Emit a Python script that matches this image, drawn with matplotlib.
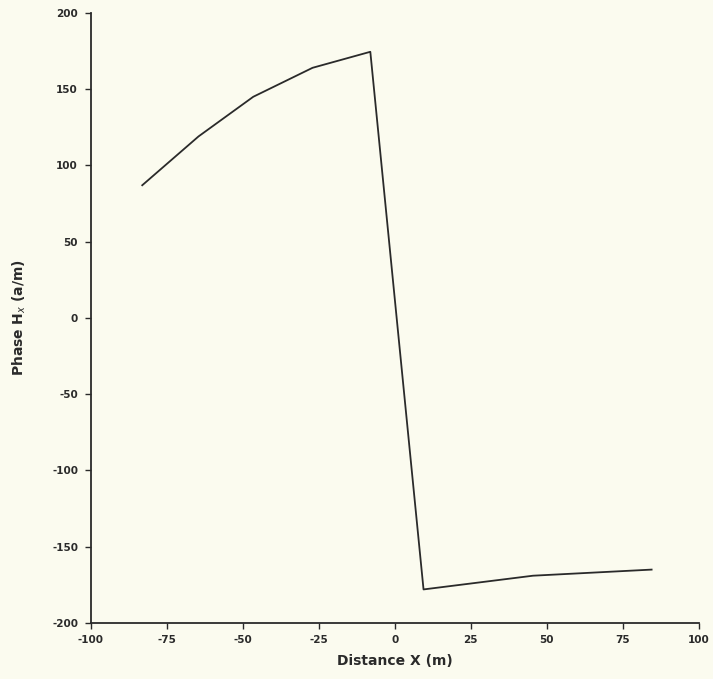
import matplotlib
matplotlib.use("Agg")
import matplotlib.pyplot as plt

# values
distance_x = [-83, -64.5, -46.5, -27, -8, 9.5, 45.5, 84.5]
phase_hx = [87, 119, 145, 164, 174.5, -178, -169, -165]

x_ticks = [-100, -75, -50, -25, 0, 25, 50, 75, 100]
y_ticks = [-200, -150, -100, -50, 0, 50, 100, 150, 200]

plt.rcParams["axes.unicode_minus"] = False
plt.rcParams["font.family"] = "DejaVu Sans"

bg = "#fbfbef"
ink = "#2a2a2a"
fig = plt.figure(figsize=(7.13, 6.79), dpi=100, facecolor=bg)
ax = fig.add_axes([0.127, 0.0825, 0.853, 0.8985], facecolor=bg)

ax.plot(distance_x, phase_hx, color=ink, lw=1.3)

ax.set_xlim(-100, 100)
ax.set_ylim(-200, 200)
ax.set_xticks(x_ticks)
ax.set_yticks(y_ticks)
ax.set_xticklabels([str(t) for t in x_ticks])
ax.set_yticklabels([str(t) for t in y_ticks])

for side in ["top", "right"]:
    ax.spines[side].set_visible(False)
for side in ["left", "bottom"]:
    ax.spines[side].set_color(ink)
    ax.spines[side].set_linewidth(1.3)

ax.tick_params(direction="out", length=4, width=1, colors=ink,
               labelsize=7.5, pad=5)
for lbl in ax.get_xticklabels() + ax.get_yticklabels():
    lbl.set_fontweight("bold")

ax.set_xlabel("Distance X (m)", fontsize=10, fontweight="bold", color=ink,
              labelpad=6)
ax.set_ylabel("Phase H$_x$ (a/m)", fontsize=10, fontweight="bold", color=ink,
              labelpad=17)

plt.savefig("out.png", dpi=100, facecolor=bg)
plt.close()
